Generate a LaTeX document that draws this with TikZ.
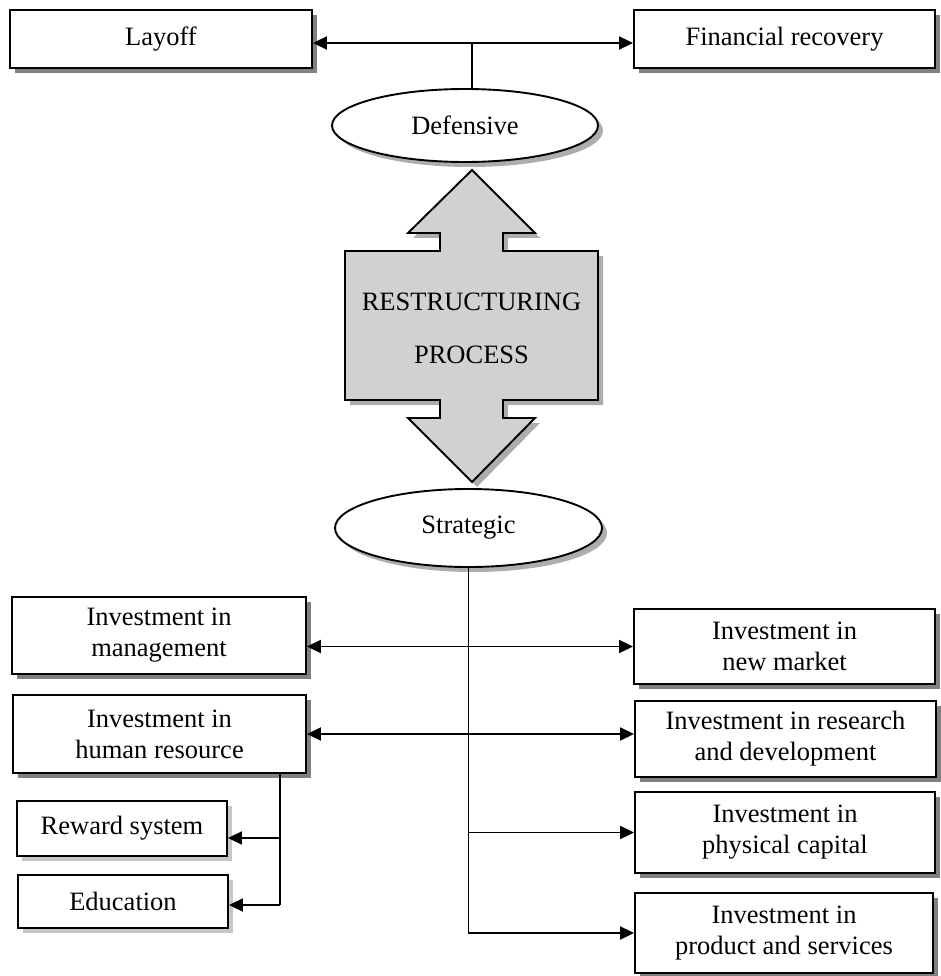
\documentclass[tikz,border=0pt]{standalone}
\usepackage{fontspec}
\setmainfont{Liberation Serif}
\usetikzlibrary{arrows.meta,shapes.geometric,shadows}
\definecolor{arrowgray}{RGB}{210,208,210}
\begin{document}
\begin{tikzpicture}[x=1pt,y=-1pt,
  every node/.style={font=\fontsize{26.5}{31}\selectfont},
  darkshadow/.style={drop shadow={shadow xshift=5pt,shadow yshift=-5pt,fill=black!50,opacity=1}},
  lightshadow/.style={drop shadow={shadow xshift=5pt,shadow yshift=-5pt,fill=black!22,opacity=1}},
  softshadow/.style={drop shadow={shadow xshift=5pt,shadow yshift=-5pt,fill=black!40,opacity=0.8}},
  boxnode/.style={draw,line width=1.9pt,fill=white,darkshadow,align=center,inner sep=0pt},
  lboxnode/.style={draw,line width=1.9pt,fill=white,lightshadow,align=center,inner sep=0pt},
  ellnode/.style={draw,ellipse,line width=1.9pt,fill=white,softshadow,inner sep=0pt},
  conn/.style={line width=1.9pt},
  tip/.style={-{Triangle[length=14pt,width=13pt]}},
  dtip/.style={{Triangle[length=14pt,width=13pt]}-{Triangle[length=14pt,width=13pt]}}
]
\useasboundingbox (0,0) rectangle (940,976);

% top boxes
\node[boxnode,minimum width=302pt,minimum height=58pt] (layoff) at (161,39) {Layoff};
\node[boxnode,minimum width=301pt,minimum height=58pt] (fin) at (784.5,39) {Financial recovery};
\node[ellnode,minimum width=266pt,minimum height=73pt] (def) at (465,125.5) {Defensive};

% big double arrow
\draw[line width=1.9pt,fill=arrowgray,softshadow]
  (472,170) -- (535,233) -- (503,233) -- (503,251) -- (598,251) -- (598,400)
  -- (503,400) -- (503,418) -- (535,418) -- (472,482) -- (408,418) -- (440,418)
  -- (440,400) -- (345,400) -- (345,251) -- (440,251) -- (440,233) -- (408,233) -- cycle;
\node (rest) at (471.5,302) {RESTRUCTURING};
\node (proc) at (471.5,355) {PROCESS};

\node[ellnode,minimum width=267pt,minimum height=78pt] (strat) at (468.5,528) {Strategic};

% left boxes
\node[boxnode,minimum width=294pt,minimum height=77pt] (mgmt) at (159,635.5) {Investment in\\management};
\node[boxnode,minimum width=293pt,minimum height=78pt] (hr) at (159.5,734) {Investment in\\human resource};
\node[lboxnode,minimum width=210pt,minimum height=55pt] (reward) at (122,828.5) {Reward system};
\node[lboxnode,minimum width=210pt,minimum height=53pt] (edu) at (123,901.5) {Education};

% right boxes
\node[boxnode,minimum width=301pt,minimum height=75pt] (newm) at (784.5,646.5) {Investment in\\new market};
\node[boxnode,minimum width=301pt,minimum height=76pt] (rnd) at (785.5,739) {Investment in research\\and development};
\node[boxnode,minimum width=300pt,minimum height=81pt] (phys) at (785,832.5) {Investment in\\physical capital};
\node[boxnode,minimum width=298pt,minimum height=80pt] (prod) at (784,933) {Investment in\\product and services};

% connectors top
\coordinate (dj) at (472,43);
\draw[conn,dtip] ([yshift=-4pt]layoff.east) -- ([yshift=-4pt]fin.west);
\draw[conn] (dj) -- (dj |- def.north);

% strategic trunk
\coordinate (sbot) at (strat.south);
\draw[conn,tip] (strat.south) |- (prod.west);
\draw[conn,tip] (sbot |- phys.west) -- (phys.west);
\draw[conn,dtip] (mgmt.east |- newm.west) -- (newm.west);
\draw[conn,dtip] (hr.east) -- (hr.east -| rnd.west);

% hr branch
\coordinate (hrb) at (280,773);
\coordinate (hrr) at (280,838);
\coordinate (hre) at (280,905);
\draw[conn] (hrb) -- (hre);
\draw[conn,tip] (hrr) -- (hrr -| reward.east);
\draw[conn,tip] (hre) -- (hre -| edu.east);
\end{tikzpicture}
\end{document}
